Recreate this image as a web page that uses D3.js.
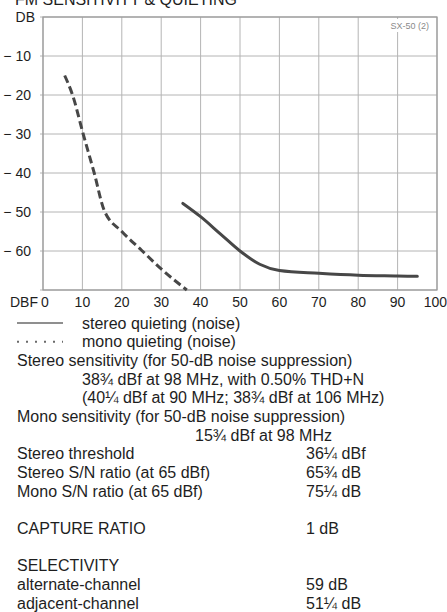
<!DOCTYPE html>
<html>
<head>
<meta charset="utf-8">
<script src="https://cdn.jsdelivr.net/npm/d3@7"></script>
<style>
  html, body { margin: 0; padding: 0; background: #fff; }
  svg { display: block; }
  text { font-family: "Liberation Sans", Arial, Helvetica, sans-serif; fill: #1e1e1e; }
</style>
</head>
<body>
<svg id="chart"></svg>
<script>
// 数据
const xTicks = [0, 10, 20, 30, 40, 50, 60, 70, 80, 90, 100];
const yTicks = [0, -10, -20, -30, -40, -50, -60, -70];
const yTickLabels = ["DB", "\u2212 10", "\u2212 20", "\u2212 30", "\u2212 40", "\u2212 50", "\u2212 60", ""];

// stereo quieting (noise)
const stereoDbf = [35.5, 40, 45, 50, 55, 60, 70, 80, 90, 95];
const stereoDb = [-47.8, -51.2, -55.6, -60, -63.4, -65, -65.7, -66.2, -66.4, -66.5];

// mono quieting (noise)
const monoDbf = [5.5, 7.5, 10.2, 13, 15.5, 20, 25, 30, 36.5];
const monoDb = [-15, -20, -30, -40, -49.5, -55, -59.8, -64.6, -70];

const legendLabels = ["stereo quieting (noise)", "mono quieting (noise)"];

const specLabels = [
  "Stereo sensitivity (for 50-dB noise suppression)",
  "38\u00BE dBf at 98 MHz, with 0.50% THD+N",
  "(40\u00BC dBf at 90 MHz; 38\u00BE dBf at 106 MHz)",
  "Mono sensitivity (for 50-dB noise suppression)",
  "15\u00BE dBf at 98 MHz",
  "Stereo threshold",
  "Stereo S/N ratio (at 65 dBf)",
  "Mono S/N ratio (at 65 dBf)",
  "",
  "CAPTURE RATIO",
  "",
  "SELECTIVITY",
  "alternate-channel",
  "adjacent-channel"
];
const specValues = ["", "", "", "", "", "36\u00BC dBf", "65\u00BE dB", "75\u00BC dB", "", "1 dB", "", "", "59 dB", "51\u00BC dB"];
const specLevels = [0, 1, 1, 0, 2, 0, 0, 0, 0, 0, 0, 0, 0, 0];

// 尺寸
const width = 447, height = 612;
const plot = { left: 43, right: 437, top: 17, bottom: 290 };
const lineColor = "#474747";
const gridColor = "#b4b4b4";

const svg = d3.select("#chart").attr("width", width).attr("height", height);

// 标题（原图顶部被裁切）
svg.append("text")
  .attr("x", 15).attr("y", 5)
  .style("font-size", "16px")
  .text("FM SENSITIVITY & QUIETING");

const x = d3.scaleLinear().domain([0, 100]).range([plot.left, plot.right]);
const y = d3.scaleLinear().domain([-70, 0]).range([plot.bottom, plot.top]);

// 网格
const grid = svg.append("g");
grid.selectAll(".vgrid")
  .data(xTicks)
  .enter().append("line")
  .attr("x1", d => x(d)).attr("x2", d => x(d))
  .attr("y1", plot.top).attr("y2", plot.bottom)
  .attr("stroke", gridColor).attr("stroke-width", 1);

grid.selectAll(".hgrid")
  .data(yTicks)
  .enter().append("line")
  .attr("x1", plot.left - 3).attr("x2", plot.right)
  .attr("y1", d => y(d)).attr("y2", d => y(d))
  .attr("stroke", gridColor).attr("stroke-width", 1);

svg.append("rect")
  .attr("x", plot.left).attr("y", plot.top)
  .attr("width", plot.right - plot.left).attr("height", plot.bottom - plot.top)
  .attr("fill", "none").attr("stroke", "#9a9a9a").attr("stroke-width", 1.2);

// 型号标签
svg.append("rect")
  .attr("x", 386).attr("y", 19).attr("width", 46).attr("height", 13)
  .attr("fill", "#fff");
svg.append("text")
  .attr("x", 429).attr("y", 28.5)
  .attr("text-anchor", "end")
  .style("font-size", "9px").style("fill", "#8a8a8a")
  .text("SX-50 (2)");

// 坐标轴标签
svg.append("g").selectAll("text")
  .data(yTicks)
  .enter().append("text")
  .attr("x", (d, i) => i === 0 ? 35 : 31)
  .attr("y", d => y(d) + 5)
  .attr("text-anchor", "end")
  .style("font-size", "14px")
  .text((d, i) => yTickLabels[i]);

svg.append("g").selectAll("text")
  .data(xTicks)
  .enter().append("text")
  .attr("x", d => x(d) + (d === 0 ? 2 : 0))
  .attr("y", 307)
  .attr("text-anchor", d => d === 100 ? "end" : "middle")
  .attr("dx", d => d === 100 ? 10 : 0)
  .style("font-size", "14px")
  .text(d => d);

svg.append("text")
  .attr("x", 10).attr("y", 307)
  .style("font-size", "14px")
  .text("DBF");

// 曲线
const line = d3.line()
  .x(d => x(d[0]))
  .y(d => y(d[1]))
  .curve(d3.curveMonotoneX);

svg.append("path")
  .attr("d", line(d3.zip(stereoDbf, stereoDb)))
  .attr("fill", "none").attr("stroke", lineColor)
  .attr("stroke-width", 3).attr("stroke-linecap", "round");

svg.append("path")
  .attr("d", line(d3.zip(monoDbf, monoDb)))
  .attr("fill", "none").attr("stroke", lineColor)
  .attr("stroke-width", 3).attr("stroke-dasharray", "8,4");

// 图例与参数
const lineH = 18.67;
const rowY = i => 323 + i * lineH;

const legend = svg.append("g");
legend.selectAll("line")
  .data(legendLabels)
  .enter().append("line")
  .attr("x1", 17).attr("x2", 63)
  .attr("y1", (d, i) => rowY(i)).attr("y2", (d, i) => rowY(i))
  .attr("stroke", "#6a6a6a")
  .attr("stroke-width", (d, i) => i === 0 ? 1.6 : 2)
  .attr("stroke-dasharray", (d, i) => i === 0 ? null : "2,7");

legend.selectAll("text")
  .data(legendLabels)
  .enter().append("text")
  .attr("x", 82)
  .attr("y", (d, i) => rowY(i) + 5.5)
  .style("font-size", "16px")
  .text(d => d);

const indent = [17, 82, 195];
const specs = svg.append("g");
specs.selectAll(".spec-label")
  .data(specLabels)
  .enter().append("text")
  .attr("class", "spec-label")
  .attr("x", (d, i) => indent[specLevels[i]])
  .attr("y", (d, i) => rowY(i + 2) + 5.5)
  .style("font-size", "16px")
  .text(d => d);

specs.selectAll(".spec-value")
  .data(specValues)
  .enter().append("text")
  .attr("class", "spec-value")
  .attr("x", 306)
  .attr("y", (d, i) => rowY(i + 2) + 5.5)
  .style("font-size", "16px")
  .text(d => d);
</script>
</body>
</html>
